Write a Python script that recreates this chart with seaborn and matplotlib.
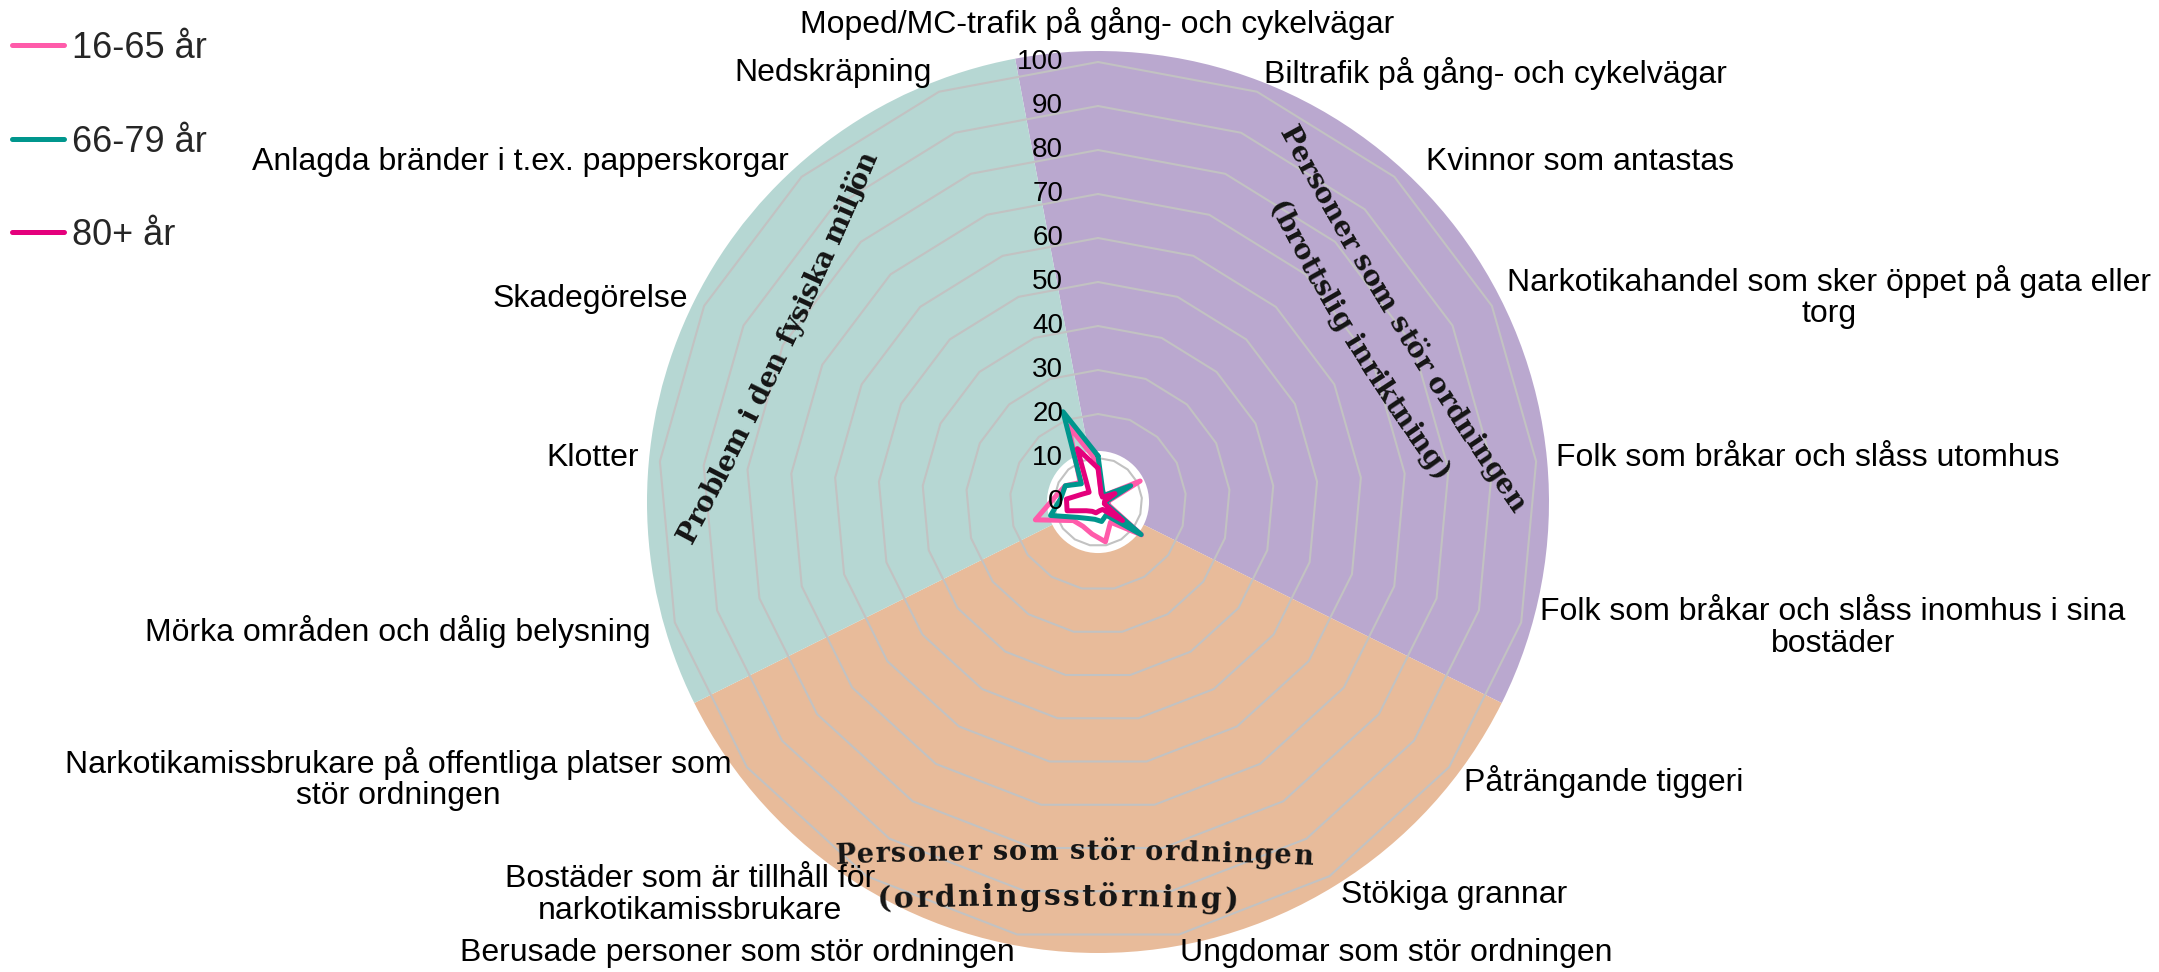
import numpy as np
import pandas as pd
import matplotlib
matplotlib.use("Agg")
import matplotlib.pyplot as plt
import seaborn as sns
from matplotlib.font_manager import FontProperties

# ---------------------------------------------------------------- data
categories = [
    "Moped/MC-trafik på gång- och cykelvägar",
    "Biltrafik på gång- och cykelvägar",
    "Kvinnor som antastas",
    "Narkotikahandel som sker öppet på gata eller\ntorg",
    "Folk som bråkar och slåss utomhus",
    "Folk som bråkar och slåss inomhus i sina\nbostäder",
    "Påträngande tiggeri",
    "Stökiga grannar",
    "Ungdomar som stör ordningen",
    "Berusade personer som stör ordningen",
    "Bostäder som är tillhåll för\nnarkotikamissbrukare",
    "Narkotikamissbrukare på offentliga platser som\nstör ordningen",
    "Mörka områden och dålig belysning",
    "Klotter",
    "Skadegörelse",
    "Anlagda bränder i t.ex. papperskorgar",
    "Nedskräpning",
]

age_groups = ["16-65 år", "66-79 år", "80+ år"]

andel_16_65 = [9.0, 2.0, 2.0, 10.7, 2.4, 2.5, 12.4, 5.4, 9.2, 7.4, 6.5, 7.0, 14.8, 10.0, 8.3, 6.0, 18.5]
andel_66_79 = [10.5, 2.9, 2.0, 8.3, 2.0, 2.0, 12.3, 3.5, 4.5, 4.0, 4.4, 5.8, 11.2, 8.5, 8.3, 5.6, 22.0]
andel_80 = [7.7, 2.0, 1.5, 4.3, 1.5, 1.5, 7.0, 2.0, 2.0, 2.5, 2.5, 3.3, 7.3, 7.2, 4.0, 3.0, 13.0]

radial_ticks = [0, 10, 20, 30, 40, 50, 60, 70, 80, 90, 100]

# thematic groups of the categories (consecutive, clockwise from the top)
sector_titles = [
    ["Personer som stör ordningen", "(brottslig inriktning)"],
    ["Personer som stör ordningen", "(ordningsstörning)"],
    ["Problem i den fysiska miljön"],
]
sector_sizes = [6, 6, 5]

# ---------------------------------------------------------------- style / layout
W, H, DPI = 2159, 972, 100
CX, CY = 1098, 502            # chart centre, pixels from top-left
PX_PER_UNIT = 4.4
R_AXES = 104
R_PIE = 102.5
R_HOLE = 11.6

series_colors = ["#FF5BAA", "#00968D", "#E4007C"]
sector_colors = ["#BAA8CF", "#E8BB9A", "#B6D7D3"]
grid_color = "#C2C2C2"

label_xy_px = [
    (1097, 23), (1495, 73), (1580, 162), (1829, 297), (1808, 458),
    (1833, 628), (1604, 781), (1454, 895), (1396, 953), (737, 953),
    (690, 895), (398, 779), (398, 631), (593, 458), (590, 299),
    (520, 162), (833, 73),
]

# centre line of each curved title line: start, middle, end (pixels)
title_paths = [
    [((1290, 138), (1399, 326), (1514, 502)),
     ((1278, 208), (1354, 344), (1440, 472))],
    [((846, 856), (1074, 852), (1303, 857)),
     ((884, 900), (1057, 897), (1231, 901))],
    [((690, 532), (783, 348), (867, 162))],
]
title_sizes = [[20, 20], [19.5, 21.5], [20]]

sns.set_theme(style="white")
plt.rcParams["font.family"] = ["Liberation Sans", "DejaVu Sans"]

fig = plt.figure(figsize=(W / DPI, H / DPI), dpi=DPI)
fig.patch.set_facecolor("white")

rad_px = R_AXES * PX_PER_UNIT
ax = fig.add_axes([(CX - rad_px) / W, (H - CY - rad_px) / H, 2 * rad_px / W, 2 * rad_px / H],
                  projection="polar")
ax.set_theta_zero_location("N")
ax.set_theta_direction(-1)

n = len(categories)
step = 2 * np.pi / n
theta = np.arange(n) * step
theta_closed = np.append(theta, 2 * np.pi)

# coloured background wedges, one per thematic group
edges = np.concatenate([[0], np.cumsum(sector_sizes)]) * step - step / 2
ax.bar((edges[:-1] + edges[1:]) / 2, R_PIE, width=np.diff(edges), bottom=0,
       color=sector_colors, edgecolor="none", linewidth=0, zorder=1)
ax.bar(0, R_HOLE, width=2 * np.pi, bottom=0, color="white", edgecolor="none", zorder=2)

# polygonal grid
for r in radial_ticks[1:]:
    ax.plot(theta_closed, np.full(n + 1, r), color=grid_color, lw=1.5, zorder=3)

# series
rows = []
for grp, vals in zip(age_groups, [andel_16_65, andel_66_79, andel_80]):
    for t, v in zip(theta_closed, list(vals) + [vals[0]]):
        rows.append((grp, t, v))
df = pd.DataFrame(rows, columns=["grupp", "vinkel", "andel"])
sns.lineplot(data=df, x="vinkel", y="andel", hue="grupp", hue_order=age_groups,
             palette=series_colors, sort=False, estimator=None, lw=3.6,
             ax=ax, zorder=5)

ax.set_ylim(0, R_AXES)
ax.set_thetalim(0, 2 * np.pi)
ax.set_axis_off()

# radial value labels
for t in radial_ticks:
    ax.annotate(str(t), xy=(0, t), xytext=(-35 * 72 / DPI, 0), textcoords="offset points",
                ha="right", va="center", fontsize=20, color="black", zorder=10,
                annotation_clip=False)

# category labels
for lab, (x, y) in zip(categories, label_xy_px):
    fig.text(x / W, 1 - y / H, lab, ha="center", va="center", multialignment="center",
             fontsize=23, linespacing=1.05, color="black")

# legend
sns.move_legend(ax, "upper left", bbox_to_anchor=(12 / W, 1 - 31 / H),
                bbox_transform=fig.transFigure, frameon=False, title=None,
                fontsize=26, handlelength=1.45, handletextpad=0.2,
                labelspacing=1.62, borderpad=0, borderaxespad=0)


def circle_through(p0, p1, p2):
    (x1, y1), (x2, y2), (x3, y3) = p0, p1, p2
    d = 2 * (x1 * (y2 - y3) + x2 * (y3 - y1) + x3 * (y1 - y2))
    ux = ((x1**2 + y1**2) * (y2 - y3) + (x2**2 + y2**2) * (y3 - y1) + (x3**2 + y3**2) * (y1 - y2)) / d
    uy = ((x1**2 + y1**2) * (x3 - x2) + (x2**2 + y2**2) * (x1 - x3) + (x3**2 + y3**2) * (x2 - x1)) / d
    return np.array([ux, uy])


def text_on_arc(text, path, size):
    pts = [np.array([x, H - y], float) for x, y in path]
    c = circle_through(*pts)
    R = np.hypot(*(pts[0] - c))
    a0, am, a1 = [np.arctan2(p[1] - c[1], p[0] - c[0]) for p in pts]
    wrap = lambda a: (a + np.pi) % (2 * np.pi) - np.pi
    sweep = wrap(a1 - a0)
    mid = wrap(am - a0)
    if not (0 < mid / sweep < 1):
        sweep -= np.sign(sweep) * 2 * np.pi
    fp = FontProperties(family="DejaVu Serif", weight="bold", size=size)
    rend = fig.canvas.get_renderer()
    centres = []
    for i, ch in enumerate(text):
        if ch == " ":
            centres.append(None)
            continue
        w_pre = rend.get_text_width_height_descent(text[: i + 1], fp, ismath=False)[0]
        w_ch = rend.get_text_width_height_descent(ch, fp, ismath=False)[0]
        centres.append(w_pre - w_ch / 2)
    valid = [s for s in centres if s is not None]
    s0, s1 = valid[0], valid[-1]
    for ch, s in zip(text, centres):
        if s is None:
            continue
        a = a0 + (s - s0) / (s1 - s0) * sweep
        x, y = c[0] + R * np.cos(a), c[1] + R * np.sin(a)
        tx, ty = (-np.sin(a), np.cos(a)) if sweep > 0 else (np.sin(a), -np.cos(a))
        fig.text(x / W, y / H, ch, rotation=np.degrees(np.arctan2(ty, tx)),
                 rotation_mode="anchor", ha="center", va="center",
                 fontproperties=fp, color="#141414", zorder=6)


for lines, paths, sizes in zip(sector_titles, title_paths, title_sizes):
    for line, path, size in zip(lines, paths, sizes):
        text_on_arc(line, path, size)

fig.savefig("out.png", dpi=DPI, facecolor="white")
